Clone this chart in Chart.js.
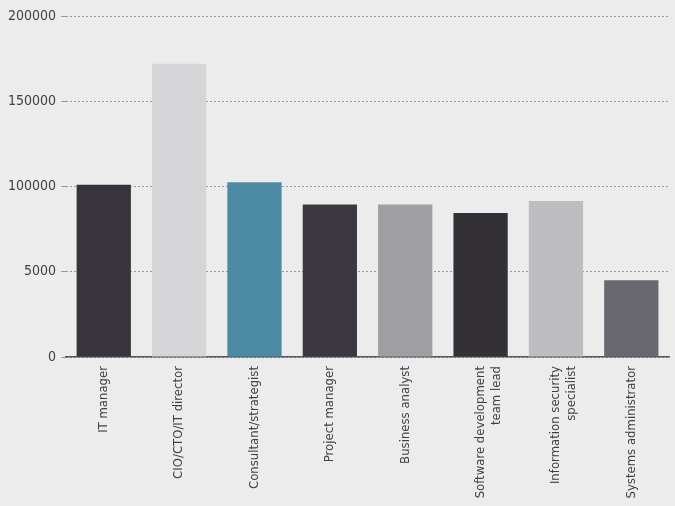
<!DOCTYPE html>
<html>
<head>
<meta charset="utf-8">
<script src="https://cdn.jsdelivr.net/npm/chart.js@4"></script>
<style>
  html, body { margin: 0; padding: 0; background: #ececed; }
  #wrap { width: 675px; height: 506px; }
</style>
</head>
<body>
<div id="wrap"><canvas id="salaryChart"></canvas></div>
<script>
// job titles along the x axis
var roles = [
  'IT manager',
  'CIO/CTO/IT director',
  'Consultant/strategist',
  'Project manager',
  'Business analyst',
  ['Software development', 'team lead'],
  ['Information security', 'specialist'],
  'Systems administrator'
];

// values
var salaries = [101000, 172000, 102500, 89500, 89500, 84500, 91500, 45000];

var barColors = ['#37343b', '#d5d5d8', '#4d8ba4', '#3b393f', '#9f9ea3', '#333136', '#bebec1', '#69676f'];

// the printed tick labels (the 50000 one really says 5000)
var tickLabels = ['0', '5000', '100000', '150000', '200000'];

var fontFamily = "'DejaVu Sans Condensed', 'Liberation Sans Narrow', sans-serif";

var ctx = document.getElementById('salaryChart').getContext('2d');

var salaryChart = new Chart(ctx, {
  type: 'bar',
  data: {
    labels: roles,
    datasets: [{
      data: salaries,
      backgroundColor: barColors,
      borderWidth: 0,
      barPercentage: 0.72,
      categoryPercentage: 1
    }]
  },
  options: {
    responsive: true,
    maintainAspectRatio: false,
    animation: false,
    layout: { padding: { top: 16, right: 6, bottom: 5, left: 3 } },
    plugins: {
      legend: { display: false },
      tooltip: { enabled: false }
    },
    scales: {
      x: {
        grid: { display: false },
        border: { display: true, color: '#55555a', width: 1.5 },
        afterFit: function (scale) {
          scale.height = 144;
        },
        ticks: {
          minRotation: 90,
          maxRotation: 90,
          padding: 1,
          color: '#3f3f44',
          font: { family: fontFamily, size: 13 }
        }
      },
      y: {
        min: 0,
        max: 200000,
        border: { display: false, dash: [2, 2] },
        grid: {
          color: '#98989d',
          lineWidth: 1,
          tickLength: 5
        },
        ticks: {
          stepSize: 50000,
          padding: 5,
          color: '#3f3f44',
          font: { family: fontFamily, size: 14 },
          callback: function (value) {
            return tickLabels[Math.round(value / 50000)];
          }
        }
      }
    }
  }
});
</script>
</body>
</html>
